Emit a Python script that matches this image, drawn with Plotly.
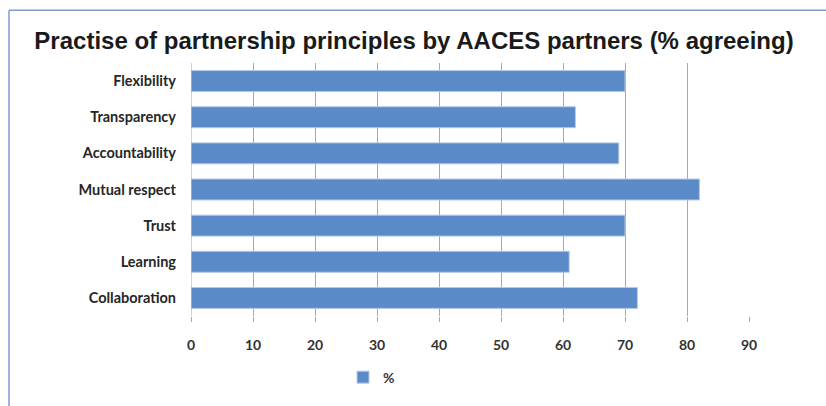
import plotly.graph_objects as go

categories = ["Flexibility", "Transparency", "Accountability", "Mutual respect", "Trust", "Learning", "Collaboration"]
values = [70, 62, 69, 82, 70, 61, 72]
series_name = "%"
x_ticks = [0, 10, 20, 30, 40, 50, 60, 70, 80, 90]

W, H = 826, 406
L, R, T, B = 191, 77, 63, 84
pw, ph = W - L - R, H - T - B

def px_x(p):
    return (p - L) / pw

def px_y(p):
    return (H - B - p) / ph

fig = go.Figure()
fig.add_trace(go.Bar(
    y=categories[::-1], x=values[::-1], orientation="h", name=series_name,
    marker=dict(color="#5a8bc8", line=dict(color="#b4c9e6", width=1)),
    showlegend=True,
))

fig.update_layout(
    width=W, height=H,
    margin=dict(l=L, r=R, t=T, b=B),
    paper_bgcolor="white", plot_bgcolor="white",
    bargap=0.42,
    title=dict(text="<b>Practise of partnership principles by AACES partners (% agreeing)</b>",
               x=414 / W, xanchor="center", xref="container", y=1 - 41 / H, yanchor="middle",
               yref="container",
               font=dict(family="Liberation Sans, Arial", size=24, color="#1a1a1a")),
    xaxis=dict(range=[0, 90], tickvals=x_ticks, showgrid=True, gridcolor="#a8a8a8", gridwidth=1,
               zeroline=False, showline=False, ticks="outside", ticklen=5, tickcolor="#a8a8a8",
               tickfont=dict(family="Lato", size=14, color="#333333", weight="bold"),
               ticklabelstandoff=11, fixedrange=True),
    yaxis=dict(showgrid=False, zeroline=False, showline=False, ticks="",
               tickfont=dict(family="Lato", size=14.5, color="#262626", weight="bold"),
               ticklabelstandoff=14, fixedrange=True),
    legend=dict(orientation="h", x=px_x(343), xanchor="left", y=px_y(385), yanchor="middle",
                font=dict(family="Lato", size=14, color="#333333", weight="bold"),
                itemwidth=30, bgcolor="rgba(0,0,0,0)"),
    shapes=[
        dict(type="line", xref="paper", yref="paper", x0=px_x(9), x1=px_x(9), y0=px_y(9), y1=px_y(420),
             line=dict(color="#8597cf", width=1.5)),
        dict(type="line", xref="paper", yref="paper", x0=px_x(9), x1=px_x(840), y0=px_y(9), y1=px_y(9),
             line=dict(color="#8597cf", width=1.5)),
        dict(type="line", xref="x", yref="paper", x0=0, x1=0, y0=0, y1=1,
             line=dict(color="#a8a8a8", width=1)),
    ],
)

fig.write_html("out.html")
